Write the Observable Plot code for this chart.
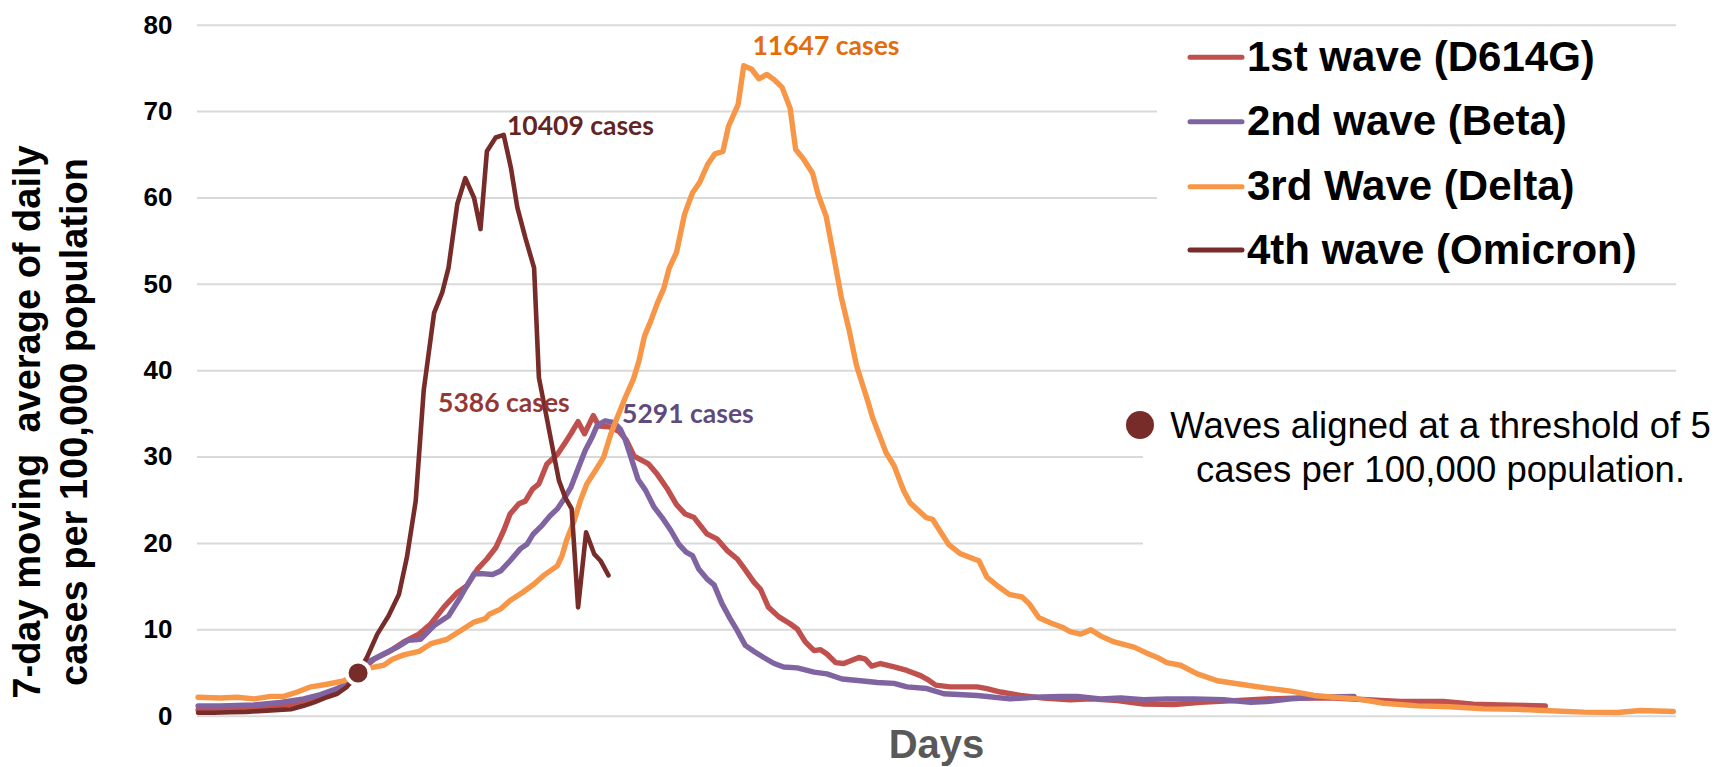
<!DOCTYPE html>
<html><head><meta charset="utf-8">
<script src="https://cdn.jsdelivr.net/npm/d3@7"></script>
<script src="https://cdn.jsdelivr.net/npm/@observablehq/plot@0.6"></script>
<style>
html,body{margin:0;padding:0;background:#fff;}
#chart svg{display:block;}
</style></head><body><div id="chart"></div>
<script>
// ---- data ----
const seriesNames = ["1st wave (D614G)", "2nd wave (Beta)", "3rd Wave (Delta)", "4th wave (Omicron)"];
const seriesColors = ["#c0504d", "#8064a2", "#f79646", "#772c2a"];

const wave1Days = [0,2.8,7,11.1,14,16.6,18.6,20,22,24.1,25.7,27.6,29.1,30.7,32.4,33.6,34.9,36.1,37.2,38.2,39,40.1,40.9,41.8,42.6,43.6,44.9,45.9,46.6,47.5,48.3,49.4,50.1,51.4,52.6,53.5,54.5,55.3,56.3,57.4,58.6,59.8,60.9,62,63.6,64.9,66.1,67.4,68.2,69.5,70.3,71.3,72.6,74,74.9,75.9,77,77.8,78.6,79.7,80.7,81.5,82.6,83.4,84.2,85.3,87,88.6,90.3,91.1,92.2,94,97.4,98.6,100.3,102.8,105.7,109,111.6,114.9,118.2,122,125.3,129.5,133.6,137.8,142,146.1,150.3,155.7,159.4,162.8,168.4];
const wave1Values = [0.73,0.8,0.96,1.3,1.8,2.8,3.7,5,6.6,7.6,8.6,9.5,10.7,12.6,14.3,15.1,17,18.2,19.5,21.5,23.4,24.6,24.9,26.3,26.9,29.2,30.3,31.7,32.7,34.1,32.7,34.8,33.6,33.5,33,32,30.1,29.7,29.2,28,26.4,24.5,23.4,23,21.1,20.5,19.2,18.2,17.2,15.5,14.7,12.6,11.5,10.7,10.1,8.6,7.6,7.7,7.2,6.2,6.1,6.4,6.8,6.6,5.8,6.1,5.7,5.3,4.7,4.3,3.6,3.4,3.4,3.2,2.8,2.4,2.1,1.9,2,1.8,1.4,1.35,1.6,1.8,2,2.1,2.1,1.9,1.7,1.7,1.4,1.3,1.2];

const wave2Days = [0,2.8,7,10.3,13.2,15.3,17.4,19.1,20,21.5,23.2,24.9,26.3,27.8,29.5,31.3,32.8,33.6,34.5,35.5,36.8,37.8,39,40.3,41.1,41.9,43,44,44.9,45.7,46.6,47.6,48.4,49.2,49.9,50.9,52,52.8,53.4,54.1,55,55.9,57,58,59.1,60.1,61,61.8,62.6,63.6,64.5,65.5,66.5,67.4,68.4,69.5,70.7,72,73.2,74.9,77,78.6,80.5,82.8,84.9,87,88.6,91.1,93.2,97.4,101.5,104.5,107.8,109.9,112.8,115.3,118.2,121.1,124.5,128.2,131.6,133.6,136.6,139.9,144.5];
const wave2Values = [1.2,1.2,1.3,1.6,2,2.5,3.2,3.9,5,6.4,7.2,8,8.8,8.9,10.5,11.6,13.8,15.1,16.5,16.5,16.4,16.8,18,19.4,19.9,21.1,22.1,23.2,24,25.1,26.5,28.9,30.8,32.2,33.7,34.2,34,33.2,32,30,27.4,26.2,24.2,23,21.5,19.9,19,18.6,17,15.9,15.2,13,11.3,9.9,8.2,7.5,6.8,6.1,5.7,5.6,5.1,4.9,4.3,4.1,3.9,3.8,3.4,3.2,2.6,2.4,2,2.2,2.3,2.3,2,2.1,1.9,2,2,1.9,1.6,1.7,2,2.2,2.3];

const wave3Days = [0,2.8,4.9,7,9.1,10.7,12.4,14.1,16.1,18.2,20,21.5,23.2,24.3,25.7,27.6,29.1,31.1,32.8,34.5,35.9,36.4,37.8,39,40.5,42,43.2,44.9,45.5,46.1,47,47.8,48.6,49.9,50.7,51.6,52.4,53.4,54.4,55.1,55.8,56.6,57.4,58.2,58.9,59.8,60.8,61.8,62.7,63.7,64.6,65.6,66.3,67.5,68.2,69.2,70.1,71.1,72,73,74,74.7,75.6,76.8,77.5,78.5,79.4,80.4,81.4,82.3,83.7,84.3,86,87,88.2,89,91,91.8,93.8,95.3,97,97.6,98.6,99.9,101.4,103,103.9,105.1,106.6,108,109,110.3,111.6,112.8,114.5,117,118.6,119.9,121.1,122.8,124.9,127.4,130.3,133.2,136.6,139.5,142,144.9,148.2,152.4,156.5,160.7,164.9,168.2,173.2,177.4,180.3,184.4];
const wave3Values = [2.2,2.1,2.2,2,2.3,2.3,2.8,3.4,3.7,4.1,5,5.6,5.9,6.6,7.1,7.5,8.4,8.9,9.9,10.9,11.3,11.8,12.4,13.4,14.3,15.3,16.3,17.4,18.6,20.5,22.6,25,26.9,28.8,30,32.7,34.6,36.9,39,41.1,44,45.8,47.8,49.5,51.9,53.7,58.1,60.6,61.8,63.9,65.1,65.4,68.3,70.8,75.3,74.9,73.8,74.3,73.7,72.8,70.4,65.6,64.6,62.9,60.4,57.9,53.5,48.5,44.6,40.6,36.5,34.6,30.5,29,26.1,24.7,23,22.8,19.9,18.8,18.2,18,16.1,15.1,14.1,13.8,13,11.4,10.8,10.3,9.8,9.5,10,9.3,8.6,8,7.3,6.8,6.2,5.9,4.9,4.1,3.7,3.3,2.9,2.4,2.2,2,1.5,1.2,1.1,0.85,0.8,0.66,0.47,0.43,0.66,0.54];

const wave4Days = [0,2,4,6,8.6,11.6,13.2,14.5,16.1,17.4,18.6,20,21.1,22.4,23.8,25.1,26.1,27.2,28.2,29.5,30.5,31.3,32.4,33.4,34.5,35.3,36.1,37.2,38.2,39.1,39.9,40.9,42,42.6,43.4,44.3,45.1,45.9,46.7,47.5,48.5,49.5,50.3,51.3];
const wave4Values = [0.4,0.4,0.45,0.5,0.65,0.8,1.2,1.6,2.2,2.6,3.4,5,6.8,9.5,11.6,14.1,18.4,24.9,37.7,46.7,49,51.9,59.3,62.3,60,56.4,65.4,67,67.3,63.5,58.9,55.4,51.9,39.2,35.4,31.1,27.3,25.3,24,12.6,21.3,18.8,18,16.3];

const yTicks = [0, 10, 20, 30, 40, 50, 60, 70, 80];

const thresholdDay = 20;
const thresholdValue = 5;

const peakLabelTexts = ["5386 cases", "5291 cases", "11647 cases", "10409 cases"];
const peakLabelColors = ["#953735", "#604a7b", "#e46c0a", "#632523"];
const peakLabelDays = [30.0, 53.0, 69.3, 38.6];
const peakLabelValues = [35.2, 34.0, 76.6, 67.3];

const yTitleLines = ["7-day moving  average of daily", "cases per 100,000 population"];
const xTitle = "Days";
const noteLines = ["Waves aligned at a threshold of 5", "cases per 100,000 population."];

// ---- build tables ----
const allDays = [wave1Days, wave2Days, wave3Days, wave4Days];
const allValues = [wave1Values, wave2Values, wave3Values, wave4Values];
const seriesData = allDays.map((ds, i) => ds.map((d, j) => ({day: d, value: allValues[i][j], series: seriesNames[i]})));
const peakTable = peakLabelTexts.map((t, i) => ({text: t, day: peakLabelDays[i], value: peakLabelValues[i], color: peakLabelColors[i]}));

const W = 1721, H = 767;
const FONT = "'Liberation Sans', Arial, sans-serif";
const chart = Plot.plot({
  width: W, height: H,
  marginLeft: 197, marginRight: 45, marginTop: 24.7, marginBottom: 51.3,
  x: {domain: [-0.075, 184.8], axis: null},
  y: {domain: [0, 80]},
  style: {fontFamily: FONT, background: "white", overflow: "visible"},
  marks: [
    Plot.ruleY(yTicks, {stroke: "#d9d9d9", strokeWidth: 2}),
    Plot.axisY(yTicks, {tickSize: 0, tickPadding: 25, fontSize: 26, fontWeight: "bold", fill: "#000", label: null}),
    ...seriesData.map((data, i) => Plot.line(data, {
      x: "day", y: "value", stroke: seriesColors[i],
      strokeWidth: i === 3 ? 4.6 : 5.4, strokeLinejoin: "round", strokeLinecap: "round"
    })),
    Plot.dot([{day: thresholdDay, value: thresholdValue}], {x: "day", y: "value", r: 11.5, fill: "#772c2a", stroke: "white", strokeWidth: 4}),
    ...peakTable.map(p => Plot.text([p], {
      x: "day", y: "value", text: "text", fill: p.color,
      textAnchor: "start", lineAnchor: "bottom", fontSize: 26.5, fontWeight: "bold",
      fontFamily: "Lato, 'Open Sans', sans-serif"
    }))
  ]
});
document.getElementById("chart").appendChild(chart);

const svg = d3.select(chart);
svg.selectAll('g[aria-label="y-axis tick label"] text').style("font-weight", "bold");

// y-axis title
const yt = svg.append("g").attr("font-family", FONT)
  .attr("font-weight", "bold").attr("font-size", 38).attr("fill", "#000").attr("text-anchor", "middle");
yt.append("text").attr("transform", "translate(40,422) rotate(-90)").style("white-space", "pre").text(yTitleLines[0]);
yt.append("text").attr("transform", "translate(87,422) rotate(-90)").text(yTitleLines[1]);

// x title
svg.append("text").attr("x", 936.5).attr("y", 758).attr("text-anchor", "middle")
  .attr("font-family", FONT).attr("font-weight", "bold")
  .attr("font-size", 40).attr("fill", "#595959").text(xTitle);

// legend
const lg = svg.append("g").attr("text-anchor", "start");
lg.append("rect").attr("x", 1157).attr("y", 27).attr("width", 523).attr("height", 255).attr("fill", "white");
const rowY = [57.3, 121.7, 186.7, 250];
seriesNames.forEach((name, i) => {
  lg.append("line").attr("x1", 1190).attr("x2", 1242).attr("y1", rowY[i]).attr("y2", rowY[i])
    .attr("stroke", seriesColors[i]).attr("stroke-width", 5).attr("stroke-linecap", "round");
  lg.append("text").attr("x", 1247).attr("y", rowY[i] + 13.5).attr("text-anchor", "start")
    .attr("font-family", FONT).attr("font-weight", "bold")
    .attr("font-size", 42).attr("fill", "#000").text(name);
});

// threshold note
const nt = svg.append("g");
nt.append("rect").attr("x", 1143).attr("y", 376).attr("width", 578).attr("height", 246).attr("fill", "white");
nt.append("circle").attr("cx", 1140).attr("cy", 425).attr("r", 14).attr("fill", "#772c2a");
noteLines.forEach((t, i) => {
  nt.append("text").attr("x", 1440.5).attr("y", 438.3 + i * 43.4).attr("text-anchor", "middle")
    .attr("font-family", FONT).attr("font-size", 36.5)
    .attr("fill", "#000").text(t);
});
</script></body></html>
